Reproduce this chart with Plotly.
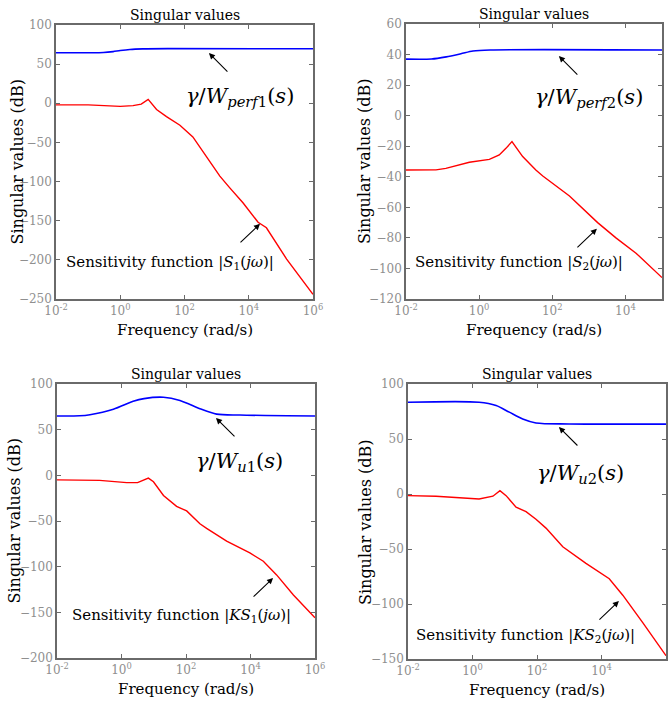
import math
import plotly.graph_objects as go

# ---------------- data (frequency in rad/s, magnitude in dB) ----------------
f1_red = [0.01, 0.1, 0.316, 1.0, 2.5, 4.5, 7.4, 10.0, 13.5, 27.5, 72, 182, 490, 1260, 2570, 6600, 19500, 35500, 151000, 1e6]
s1_red = [-2, -2, -3, -4, -3, -1, 5, -1, -8, -17, -28, -43, -68, -93, -108, -127, -152, -159, -199, -244]
f1_blue = [0.01, 0.1, 0.3, 0.6, 1.0, 2.0, 5.0, 30, 1e6]
s1_blue = [64.5, 64.5, 64.8, 66.0, 67.4, 68.8, 69.5, 69.8, 69.6]

f2_red = [0.01, 0.066, 0.123, 0.54, 1.9, 3.55, 5.4, 7.9, 15.5, 35.5, 55, 295, 1740, 5500, 19500, 1e5]
s2_red = [-35.6, -35.5, -34.5, -30.5, -28.6, -25.7, -21.4, -17, -26.8, -35.6, -39.5, -52.6, -70, -80, -90, -106]
f2_blue = [0.01, 0.05, 0.126, 0.316, 0.68, 2.0, 1e5]
s2_blue = [37, 37.1, 38.5, 40.5, 42.3, 43, 43]

f3_red = [0.01, 0.21, 1.45, 3.16, 6.8, 9.8, 20, 51, 105, 270, 436, 1820, 9550, 25000, 64500, 214000, 1e6]
s3_red = [-5, -5.5, -8, -8, -3, -7, -22, -34, -39, -53, -58, -72, -85, -94, -109, -131, -156]
f3_blue = [0.01, 0.05, 0.105, 0.56, 2.3, 5.0, 20, 65, 270, 890, 4700, 1e6]
s3_blue = [65, 65.2, 66.4, 72.3, 81, 84, 85.5, 82, 73, 67, 66, 65]

f4_red = [0.01, 0.074, 1.6, 4.3, 7.1, 11, 22.4, 45.7, 93, 190, 630, 3300, 17400, 45700, 190000, 1e6]
s4_red = [-1.5, -2, -4.5, -2, 3, -1.5, -12, -16, -23, -31, -48, -63, -77, -92, -117, -147]
f4_blue = [0.01, 1.6, 5.4, 13.8, 36, 93, 1000, 1e6]
s4_blue = [83.4, 83.4, 80.4, 74.4, 68.2, 64.6, 63.7, 63.5]

xtick_vals = [0.01, 1, 100, 1e4, 1e6]
xtick_text = ["10<sup>-2</sup>", "10<sup>0</sup>", "10<sup>2</sup>", "10<sup>4</sup>", "10<sup>6</sup>"]

title_text = "Singular values"
xlabel = "Frequency (rad/s)"
ylabel = "Singular values (dB)"

gamma_labels = [
    "<i>γ</i>/<i>W</i><sub><i>perf</i>1</sub>(<i>s</i>)",
    "<i>γ</i>/<i>W</i><sub><i>perf</i>2</sub>(<i>s</i>)",
    "<i>γ</i>/<i>W</i><sub><i>u</i>1</sub>(<i>s</i>)",
    "<i>γ</i>/<i>W</i><sub><i>u</i>2</sub>(<i>s</i>)",
]
sens_labels = [
    "Sensitivity function |<i>S</i><sub>1</sub>(<i>jω</i>)|",
    "Sensitivity function |<i>S</i><sub>2</sub>(<i>jω</i>)|",
    "Sensitivity function |<i>KS</i><sub>1</sub>(<i>jω</i>)|",
    "Sensitivity function |<i>KS</i><sub>2</sub>(<i>jω</i>)|",
]

gamma_text_pos = [(10**3.72, 8), (10**3.0, 11.6), (10**3.67, 14.6), (10**3.36, 18.2)]
gamma_head_pos = [(10**2.76, 64.2), (10**2.18, 39), (10**2.93, 62.8), (10**2.68, 60.9)]
sens_text_pos = [(10**1.55, -204), (10**1.09, -96.4), (10**1.85, -153), (10**1.63, -129)]
sens_head_pos = [(10**4.35, -154), (10**3.22, -74), (10**4.70, -112.4), (10**4.54, -97.3)]

# ---------------- layout geometry ----------------
W, H = 672, 704
boxes = [  # left, right, top, bottom in pixels
    (56, 313, 25, 299),
    (406, 662, 24, 299),
    (57, 315, 384, 658),
    (408, 666, 384, 659),
]
xranges = [(-2, 6), (-2, 5), (-2, 6), (-2, 6)]
yranges = [(-250, 100), (-120, 60), (-200, 100), (-150, 100)]
ydtick = [50, 20, 50, 50]
ytitle_shift = [-28, -30, -32, -31]

FONT = "DejaVu Serif"
TICK_COLOR = "#8f8f8f"
AX_COLOR = "#6a6a6a"

fig = go.Figure()
reds = [(f1_red, s1_red), (f2_red, s2_red), (f3_red, s3_red), (f4_red, s4_red)]
blues = [(f1_blue, s1_blue), (f2_blue, s2_blue), (f3_blue, s3_blue), (f4_blue, s4_blue)]

annotations = []
for i in range(4):
    xa = "x" if i == 0 else f"x{i+1}"
    ya = "y" if i == 0 else f"y{i+1}"
    fig.add_trace(go.Scatter(x=blues[i][0], y=blues[i][1], mode="lines",
                             line=dict(color="#0000ff", width=1.6, shape="spline", smoothing=0.8),
                             xaxis=xa, yaxis=ya, showlegend=False, hoverinfo="skip"))
    fig.add_trace(go.Scatter(x=reds[i][0], y=reds[i][1], mode="lines",
                             line=dict(color="#ff0000", width=1.4),
                             xaxis=xa, yaxis=ya, showlegend=False, hoverinfo="skip"))
    l, r, t, b = boxes[i]
    xkey = "xaxis" if i == 0 else f"xaxis{i+1}"
    ykey = "yaxis" if i == 0 else f"yaxis{i+1}"
    fig.update_layout(**{
        xkey: dict(domain=[l / W, r / W], anchor=ya, type="log", range=list(xranges[i]),
                   tickvals=xtick_vals, ticktext=xtick_text, ticks="inside", ticklen=4,
                   tickcolor=AX_COLOR, showline=True, linecolor=AX_COLOR, linewidth=1.5,
                   mirror="allticks", showgrid=False, zeroline=False, automargin=False,
                   tickfont=dict(family=FONT, size=12, color=TICK_COLOR)),
        ykey: dict(domain=[1 - b / H, 1 - t / H], anchor=xa, range=list(yranges[i]),
                   dtick=ydtick[i], tick0=0, ticks="inside", ticklen=4,
                   tickcolor=AX_COLOR, showline=True, linecolor=AX_COLOR, linewidth=1.5,
                   mirror="allticks", showgrid=False, zeroline=False, automargin=False,
                   tickfont=dict(family=FONT, size=12, color=TICK_COLOR)),
    })
    xd = xa + " domain"
    yd = ya + " domain"
    annotations.append(dict(text=title_text, xref=xd, yref=yd, x=0.5, y=1, xanchor="center",
                            yanchor="bottom", yshift=0, showarrow=False,
                            font=dict(family=FONT, size=14, color="black")))
    annotations.append(dict(text=xlabel, xref=xd, yref=yd, x=0.5, y=0, xanchor="center",
                            yanchor="top", yshift=-20, showarrow=False,
                            font=dict(family=FONT, size=15, color="black")))
    annotations.append(dict(text=ylabel, xref=xd, yref=yd, x=0, y=0.5, xanchor="right",
                            yanchor="middle", xshift=ytitle_shift[i], textangle=-90, showarrow=False,
                            font=dict(family=FONT, size=16, color="black")))
    gx, gy = gamma_text_pos[i]
    annotations.append(dict(text=gamma_labels[i], xref=xa, yref=ya, x=math.log10(gx), y=gy,
                            xanchor="center", yanchor="middle", showarrow=False,
                            font=dict(family=FONT, size=21, color="black")))
    hx, hy = gamma_head_pos[i]
    annotations.append(dict(text="", xref=xa, yref=ya, x=math.log10(hx), y=hy,
                            showarrow=True, ax=20, ay=20, arrowhead=2, arrowsize=1.1,
                            arrowwidth=1.1, arrowcolor="black"))
    sx, sy = sens_text_pos[i]
    annotations.append(dict(text=sens_labels[i], xref=xa, yref=ya, x=math.log10(sx), y=sy,
                            xanchor="center", yanchor="middle", showarrow=False,
                            font=dict(family=FONT, size=15, color="black")))
    hx, hy = sens_head_pos[i]
    annotations.append(dict(text="", xref=xa, yref=ya, x=math.log10(hx), y=hy,
                            showarrow=True, ax=-21, ay=20, arrowhead=2, arrowsize=1.1,
                            arrowwidth=1.1, arrowcolor="black"))

fig.update_layout(width=W, height=H, margin=dict(l=0, r=0, t=0, b=0),
                  paper_bgcolor="white", plot_bgcolor="white",
                  font=dict(family=FONT),
                  annotations=annotations, showlegend=False)

fig.write_html("out.html")
